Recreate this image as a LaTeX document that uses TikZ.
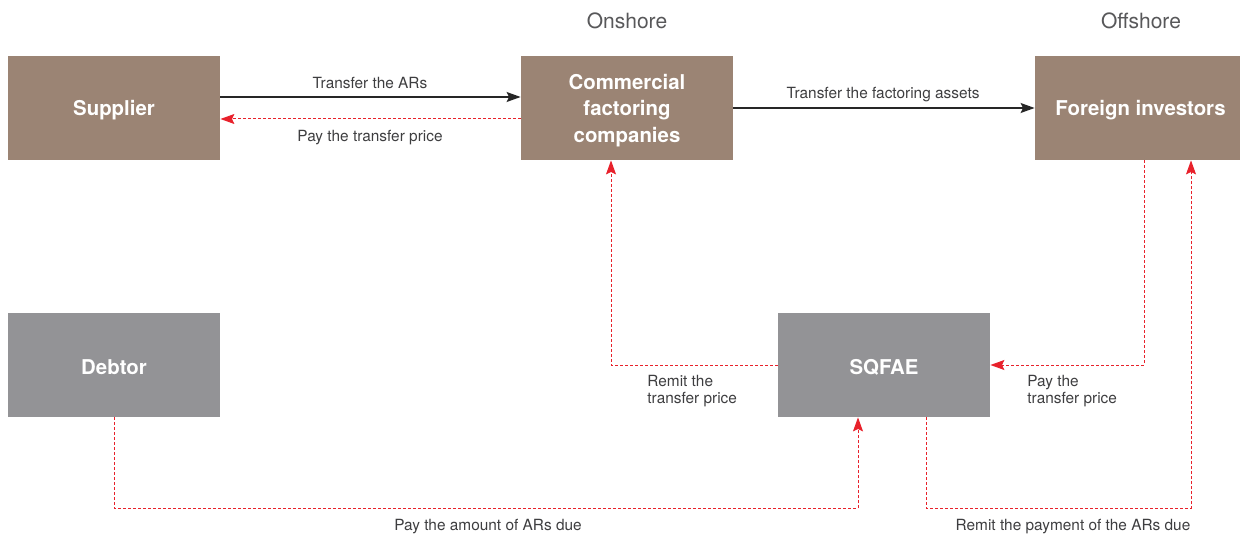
\documentclass[tikz,border=0pt]{standalone}
\usepackage{fontspec}
\setmainfont{TeX Gyre Heros}
\usetikzlibrary{arrows.meta,calc}
\definecolor{brownbox}{HTML}{9B8474}
\definecolor{greybox}{HTML}{939396}
\definecolor{flowred}{HTML}{E8212B}
\definecolor{labelgrey}{HTML}{3E3E40}
\definecolor{headgrey}{HTML}{58585A}
\begin{document}
\begin{tikzpicture}[x=0.5pt,y=-0.5pt,
  entity/.style={minimum width=106pt,minimum height=52pt,inner sep=0pt},
  onbox/.style={entity,fill=brownbox},
  offbox/.style={entity,fill=greybox},
  boxtext/.style={text=white,font=\fontsize{10.2}{13.25}\selectfont\bfseries,
    align=center,inner sep=0pt,yshift=-1.1pt},
  lbl/.style={text=labelgrey,font=\fontsize{7.7}{8.2}\selectfont,inner sep=0pt,yshift=-1.1pt},
  head/.style={text=headgrey,font=\fontsize{10.5}{12}\selectfont,inner sep=0pt,yshift=-0.5pt},
  transfer/.style={draw=black!85,line width=0.7pt,
    -{Stealth[length=7pt,width=5pt,inset=1.2pt]}},
  payment/.style={draw=flowred,line width=0.5pt,dash pattern=on 1.5pt off 1pt,
    -{Stealth[length=7pt,width=5pt,inset=1.2pt,fill=flowred]}}]
\useasboundingbox (0,0) rectangle (1240,534);

% headings
\node[head] (onshore) at (627,20) {Onshore};
\node[head] (offshore) at (1141,20) {Offshore};

% parties
\node[onbox,label={[boxtext]center:Supplier}] (sup) at (114,108) {};
\node[onbox,label={[boxtext]center:Commercial\\factoring\\companies}] (cfc) at (627,108) {};
\node[onbox,minimum width=102.5pt,label={[boxtext,xshift=1.5pt]center:Foreign investors}] (fi) at (1137.5,108) {};
\node[offbox,label={[boxtext]center:Debtor}] (deb) at (114,365) {};
\node[offbox,label={[boxtext]center:SQFAE}] (sq) at (884,365) {};

% helper rows
\coordinate (rowA) at (0,97);
\coordinate (rowB) at (0,119);

% top flows
\draw[transfer] (sup.east |- rowA) -- (cfc.west |- rowA);
\draw[payment] (cfc.west |- rowB) -- (sup.east |- rowB);
\draw[transfer] (cfc.east) -- (fi.west);

% payments via SQFAE
\draw[payment] (sq.west) -| ($(cfc.south)+(-16,0)$);
\draw[payment] ($(fi.south)+(6.5,0)$) |- (sq.east);
\draw[payment] (deb.south) -- ++(0,91) coordinate (debcorner) -| ($(sq.south)+(-26,0)$);
\draw[payment] ($(sq.south)+(42,0)$) -- ++(0,91) coordinate (sqcorner) -| ($(fi.south)+(53.5,0)$);

% labels
\node[lbl] (l1) at (370,81) {Transfer the ARs};
\node[lbl] (l2) at (370,135) {Pay the transfer price};
\node[lbl] (l3) at (883,92) {Transfer the factoring assets};
\node[lbl,anchor=north west,align=left] (l4) at (647,373) {Remit the\\transfer price};
\node[lbl,anchor=north west,align=left] (l5) at (1027,373) {Pay the\\transfer price};
\node[lbl] (l6) at (488,524) {Pay the amount of ARs due};
\node[lbl] (l7) at (1073,524) {Remit the payment of the ARs due};
\end{tikzpicture}
\end{document}
